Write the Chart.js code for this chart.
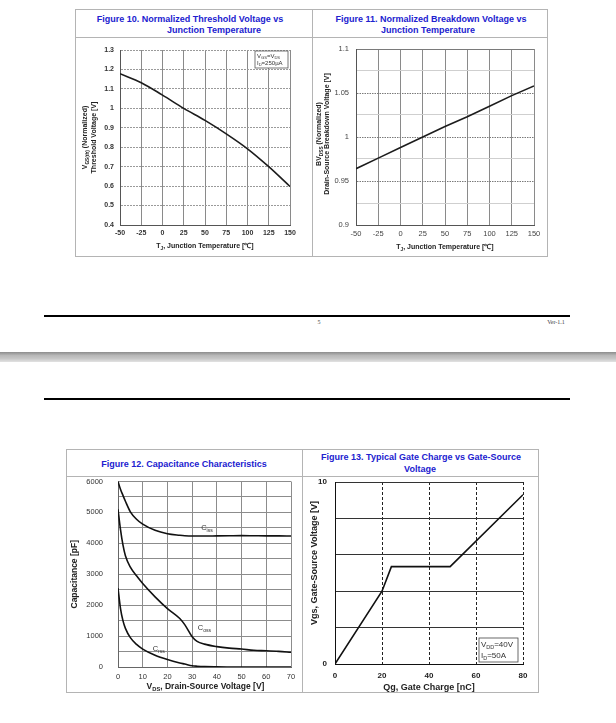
<!DOCTYPE html>
<html><head><meta charset="utf-8">
<script src="https://cdn.jsdelivr.net/npm/chart.js@4"></script>
<style>
body{margin:0;background:#fff;width:616px;height:723px;position:relative;overflow:hidden;font-family:"Liberation Sans",Arial,sans-serif;}
.box{position:absolute;border:1px solid #b4b4b4;box-sizing:border-box;}
.hl{position:absolute;background:#b4b4b4;height:1px;}
.ttl{position:absolute;color:#2121cf;font-weight:bold;font-size:9px;white-space:nowrap;transform:translate(-50%,-50%);}
canvas{position:absolute;}
.rule{position:absolute;left:44px;width:526px;height:2px;background:#000;}
.ft{position:absolute;font-family:"Liberation Serif",serif;color:#444;transform:translate(-50%,-50%);white-space:nowrap;}
</style></head><body>

<div class="box" style="left:75px;top:9px;width:238px;height:248px"></div>
<div class="box" style="left:312px;top:9px;width:236px;height:248px"></div>
<div class="hl" style="left:75px;top:37px;width:473px"></div>
<div class="ttl" style="left:190px;top:19px">Figure 10. Normalized Threshold Voltage vs</div>
<div class="ttl" style="left:214px;top:30px">Junction Temperature</div>
<div class="ttl" style="left:431px;top:19px">Figure 11. Normalized Breakdown Voltage vs</div>
<div class="ttl" style="left:428px;top:30px">Junction Temperature</div>
<canvas id="c10" width="236" height="218" style="left:76px;top:38px"></canvas>
<canvas id="c11" width="234" height="218" style="left:313px;top:38px"></canvas>

<div class="rule" style="top:315px"></div>
<div class="ft" style="left:319px;top:322px;font-size:6px">5</div>
<div class="ft" style="left:556px;top:322px;font-size:6px">Ver-1.1</div>
<div style="position:absolute;left:0;top:352px;width:616px;height:10px;background:linear-gradient(#8c8c8c,#b8b8b8 35%,#c6c6c6 65%,#e2e2e2)"></div>
<div class="rule" style="top:398px"></div>

<div class="box" style="left:66px;top:449px;width:237px;height:244px"></div>
<div class="box" style="left:302px;top:449px;width:237px;height:244px"></div>
<div class="hl" style="left:66px;top:476px;width:473px"></div>
<div class="ttl" style="left:184px;top:464px">Figure 12. Capacitance Characteristics</div>
<div class="ttl" style="left:421px;top:457px">Figure 13. Typical Gate Charge vs Gate-Source</div>
<div class="ttl" style="left:420px;top:469px">Voltage</div>
<canvas id="c12" width="235" height="215" style="left:67px;top:477px"></canvas>
<canvas id="c13" width="235" height="215" style="left:303px;top:477px"></canvas>

<script>
// ---------- data ----------
const tempC   = [-50, -25, 0, 25, 50, 75, 100, 125, 150];
const vthNorm = [1.178, 1.132, 1.068, 1.0, 0.938, 0.869, 0.792, 0.70, 0.598];
const bvNorm  = [0.964, 0.976, 0.988, 1.0, 1.012, 1.023, 1.035, 1.047, 1.058];

const vds  = [0, 1, 2, 3, 5, 7.5, 10, 15, 20, 25, 27, 30, 32, 35, 40, 45, 50, 55, 60, 65, 70];
const ciss = [6000, 5750, 5550, 5360, 5020, 4780, 4620, 4420, 4310, 4260, 4245, 4235, 4235, 4235, 4240, 4245, 4250, 4245, 4240, 4240, 4235];
const coss = [5100, 4450, 3950, 3600, 3230, 2950, 2700, 2270, 1890, 1570, 1370, 980, 830, 740, 660, 610, 580, 540, 525, 505, 475];
const crss = [2550, 1900, 1500, 1250, 950, 730, 580, 380, 240, 130, 95, 40, 25, 12, 5, 2, 0, 0, 0, 0, 0];

const qg  = [0, 20, 24, 49, 80];
const vgs = [0, 4.0, 5.35, 5.35, 9.3];

const capLabels = [
  {text: 'C_{iss}', x: 36, y: 4500},
  {text: 'C_{oss}', x: 35, y: 1260},
  {text: 'C_{rss}', x: 16.5, y: 580}
];

// ---------- helpers ----------
function fontStr(size, bold){ return (bold ? 'bold ' : '') + size + 'px "Liberation Sans", Arial, sans-serif'; }
function parseRich(s){
  const parts = []; const re = /_\{([^}]*)\}/g; let last = 0, m;
  while ((m = re.exec(s))) { if (m.index > last) parts.push([s.slice(last, m.index), false]); parts.push([m[1], true]); last = re.lastIndex; }
  if (last < s.length) parts.push([s.slice(last), false]);
  return parts;
}
function drawRich(ctx, s, x, y, o){
  const parts = parseRich(s); const ss = o.size * 0.68;
  ctx.save(); ctx.translate(x, y); if (o.rot) ctx.rotate(o.rot);
  let w = 0; parts.forEach(p => { ctx.font = fontStr(p[1] ? ss : o.size, o.bold); w += ctx.measureText(p[0]).width; });
  let cx = o.align === 'left' ? 0 : (o.align === 'right' ? -w : -w / 2);
  ctx.fillStyle = o.color || '#000'; ctx.textBaseline = 'middle'; ctx.textAlign = 'left';
  parts.forEach(p => { ctx.font = fontStr(p[1] ? ss : o.size, o.bold); ctx.fillText(p[0], cx, p[1] ? o.size * 0.32 : 0); cx += ctx.measureText(p[0]).width; });
  ctx.restore();
}
const pts = (xs, ys) => xs.map((v, i) => ({x: v, y: ys[i]}));
const base = () => ({
  responsive: false, animation: false, events: [],
  plugins: {legend: {display: false}, tooltip: {enabled: false}}
});
function fitY(W){ return s => { s.width = W; }; }
function fitX(H){ return s => { s.height = H; }; }
// y grid: invisible tick marks used as the gap between labels and plot
const yGrid = (color, gap) => ({color: color, drawTicks: true, tickLength: gap, tickColor: 'rgba(0,0,0,0)'});

// ---------- Figure 10 ----------
new Chart(document.getElementById('c10'), {
  type: 'line',
  data: {datasets: [{data: pts(tempC, vthNorm), borderColor: '#1c1c1c', borderWidth: 1.6, pointRadius: 0, tension: 0.35}]},
  options: Object.assign(base(), {
    layout: {padding: {left: 0, top: 12, right: 22, bottom: 0}},
    scales: {
      x: {type: 'linear', min: -50, max: 150,
          ticks: {stepSize: 25, autoSkip: false, maxRotation: 0, padding: 4, color: '#333', font: {size: 7, weight: 'bold', family: 'Liberation Sans'}},
          grid: {color: '#8a8a8a', drawTicks: false}, border: {color: '#555'}, afterFit: fitX(31)},
      y: {min: 0.4, max: 1.3,
          ticks: {stepSize: 0.1, autoSkip: false, padding: 0, color: '#333', font: {size: 7, weight: 'bold', family: 'Liberation Sans'},
                  callback: v => String(Math.round(v * 10) / 10)},
          grid: yGrid('#9a9a9a', 6), border: {color: '#555', dash: ctx => (ctx.tick ? [2, 1] : [])}, afterFit: fitY(44)}
    }
  }),
  plugins: [{id: 'txt10', afterDraw(c){
    const ctx = c.ctx, a = c.chartArea, cy = (a.top + a.bottom) / 2;
    drawRich(ctx, 'V_{GS(th)} (Normalized)', a.left - 34.5, cy, {size: 7, bold: true, rot: -Math.PI / 2, color: '#222'});
    drawRich(ctx, 'Threshold Voltage [V]', a.left - 25.5, cy, {size: 7, bold: true, rot: -Math.PI / 2, color: '#222'});
    drawRich(ctx, 'T_{J}, Junction Temperature [℃]', (a.left + a.right) / 2, a.bottom + 21.5, {size: 7, bold: true, color: '#222'});
    ctx.save(); ctx.fillStyle = '#fff'; ctx.strokeStyle = '#555'; ctx.lineWidth = 0.8;
    ctx.fillRect(a.right - 35, a.top + 1, 33, 17); ctx.strokeRect(a.right - 35, a.top + 1, 33, 17); ctx.restore();
    drawRich(ctx, 'V_{GS}=V_{DS}', a.right - 33, a.top + 6, {size: 6, align: 'left', color: '#333'});
    drawRich(ctx, 'I_{D}=250µA', a.right - 33, a.top + 13, {size: 6, align: 'left', color: '#333'});
  }}]
});

// ---------- Figure 11 ----------
const onFive = v => Math.abs(Math.round(v * 20) - v * 20) < 1e-6;
new Chart(document.getElementById('c11'), {
  type: 'line',
  data: {datasets: [{data: pts(tempC, bvNorm), borderColor: '#1c1c1c', borderWidth: 1.6, pointRadius: 0}]},
  options: Object.assign(base(), {
    layout: {padding: {left: 0, top: 11, right: 13, bottom: 0}},
    scales: {
      x: {type: 'linear', min: -50, max: 150,
          ticks: {stepSize: 25, autoSkip: false, maxRotation: 0, padding: 4, color: '#444', font: {size: 7.5, family: 'Liberation Sans'}},
          grid: {color: '#8a8a8a', drawTicks: false}, border: {color: '#555'}, afterFit: fitX(31)},
      y: {min: 0.9, max: 1.1,
          ticks: {stepSize: 0.025, autoSkip: false, padding: 0, color: '#444', font: {size: 7.5, family: 'Liberation Sans'},
                  callback: v => onFive(v) ? String(Math.round(v * 100) / 100) : ''},
          grid: {color: ctx => (ctx.tick && onFive(ctx.tick.value)) ? '#7a7a7a' : '#cfcfcf', drawTicks: true, tickLength: 7, tickColor: 'rgba(0,0,0,0)'},
          border: {color: '#555', dash: ctx => (ctx.tick && onFive(ctx.tick.value) && ctx.tick.value > 0.91 && ctx.tick.value < 1.09) ? [1.5, 1] : []},
          afterFit: fitY(43)}
    }
  }),
  plugins: [{id: 'txt11', afterDraw(c){
    const ctx = c.ctx, a = c.chartArea, cy = (a.top + a.bottom) / 2 - 3;
    drawRich(ctx, 'BV_{DSS} (Normalized)', a.left - 36.5, cy, {size: 7, bold: true, rot: -Math.PI / 2, color: '#222'});
    drawRich(ctx, 'Drain-Source Breakdown Voltage [V]', a.left - 29, cy, {size: 7, bold: true, rot: -Math.PI / 2, color: '#222'});
    drawRich(ctx, 'T_{J}, Junction Temperature [℃]', (a.left + a.right) / 2, a.bottom + 22, {size: 7, bold: true, color: '#222'});
  }}]
});

// ---------- Figure 12 ----------
const mk = ys => ({data: pts(vds, ys), borderColor: '#111', borderWidth: 1.6, pointRadius: 0, cubicInterpolationMode: 'monotone'});
new Chart(document.getElementById('c12'), {
  type: 'line',
  data: {datasets: [mk(ciss), mk(coss), mk(crss)]},
  options: Object.assign(base(), {
    layout: {padding: {left: 0, top: 4, right: 11, bottom: 0}},
    scales: {
      x: {type: 'linear', min: 0, max: 70,
          ticks: {stepSize: 10, autoSkip: false, maxRotation: 0, padding: 5, color: '#333', font: {size: 7.5, family: 'Liberation Sans'}},
          grid: {color: '#8c8c8c', drawTicks: false}, border: {color: '#666'}, afterFit: fitX(25)},
      y: {min: 0, max: 6000,
          ticks: {stepSize: 500, autoSkip: false, padding: 0, color: '#333', font: {size: 7.5, family: 'Liberation Sans'},
                  callback: v => (v % 1000 === 0) ? String(v) : ''},
          grid: yGrid('#8c8c8c', 15), border: {color: '#666'}, afterFit: fitY(51)}
    }
  }),
  plugins: [{id: 'txt12', afterDraw(c){
    const ctx = c.ctx, a = c.chartArea, xs = c.scales.x, ys = c.scales.y;
    drawRich(ctx, 'Capacitance [pF]', a.left - 43, (a.top + a.bottom) / 2, {size: 8.5, bold: true, rot: -Math.PI / 2, color: '#222'});
    drawRich(ctx, 'V_{DS}, Drain-Source Voltage [V]', (a.left + a.right) / 2 + 1, a.bottom + 20, {size: 8.5, bold: true, color: '#222'});
    capLabels.forEach(l => drawRich(ctx, l.text, xs.getPixelForValue(l.x), ys.getPixelForValue(l.y), {size: 7.5, color: '#333'}));
  }}]
});

// ---------- Figure 13 ----------
new Chart(document.getElementById('c13'), {
  type: 'line',
  data: {datasets: [{data: pts(qg, vgs), borderColor: '#111', borderWidth: 1.6, pointRadius: 0}]},
  options: Object.assign(base(), {
    layout: {padding: {left: 0, top: 5, right: 15, bottom: 0}},
    scales: {
      x: {type: 'linear', min: 0, max: 80,
          ticks: {stepSize: 20, autoSkip: false, maxRotation: 0, padding: 7, color: '#222', font: {size: 8, weight: 'bold', family: 'Liberation Sans'}},
          grid: {color: '#222', drawTicks: false},
          border: {color: '#111', dash: ctx => (ctx.tick && ctx.tick.value > 0) ? [3, 2] : []}, afterFit: fitX(28)},
      y: {min: 0, max: 10,
          ticks: {stepSize: 2, autoSkip: false, padding: 0, color: '#222', font: {size: 8, weight: 'bold', family: 'Liberation Sans'},
                  callback: v => (v === 0 || v === 10) ? String(v) : ''},
          grid: yGrid('#333', 8), border: {color: '#111'}, afterFit: fitY(32)}
    }
  }),
  plugins: [{id: 'txt13', afterDraw(c){
    const ctx = c.ctx, a = c.chartArea;
    drawRich(ctx, 'Vgs, Gate-Source Voltage [V]', a.left - 20, (a.top + a.bottom) / 2 - 10, {size: 9, bold: true, rot: -Math.PI / 2, color: '#222'});
    drawRich(ctx, 'Qg, Gate Charge [nC]', (a.left + a.right) / 2, a.bottom + 24, {size: 9, bold: true, color: '#222'});
    ctx.save(); ctx.fillStyle = '#fff'; ctx.strokeStyle = '#444'; ctx.lineWidth = 0.8;
    ctx.fillRect(a.right - 44, a.bottom - 26, 39, 24); ctx.strokeRect(a.right - 44, a.bottom - 26, 39, 24); ctx.restore();
    drawRich(ctx, 'V_{DD}=40V', a.right - 42, a.bottom - 19.5, {size: 8, align: 'left', color: '#333'});
    drawRich(ctx, 'I_{D}=50A', a.right - 42, a.bottom - 8.5, {size: 8, align: 'left', color: '#333'});
  }}]
});
</script>
</body></html>
